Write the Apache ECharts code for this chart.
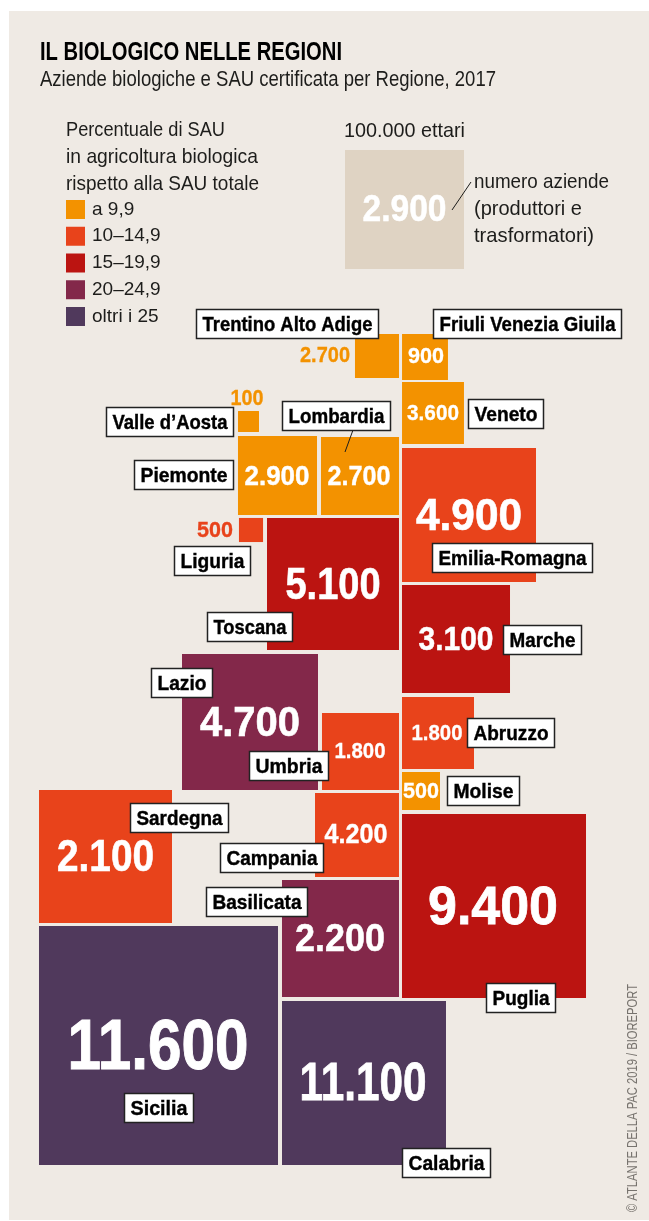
<!DOCTYPE html>
<html><head><meta charset="utf-8">
<style>html,body{margin:0;padding:0;background:#fff}#c{width:649px;height:1221px}</style>
<script src="https://cdn.jsdelivr.net/npm/echarts@6/dist/echarts.min.js"></script>
</head><body><div id="c"></div>
<script>
// ---- data ----
const regions = ['Trentino Alto Adige','Friuli Venezia Giuila','Veneto','Valle d’Aosta','Lombardia','Piemonte','Emilia-Romagna','Liguria','Toscana','Marche','Lazio','Umbria','Abruzzo','Molise','Sardegna','Campania','Basilicata','Puglia','Sicilia','Calabria'];
const farmLabels = ['2.700','900','3.600','100','2.700','2.900','4.900','500','5.100','3.100','4.700','1.800','1.800','500','2.100','4.200','2.200','9.400','11.600','11.100'];
const hectares = [13700,14900,27100,3100,43000,44100,126800,4100,123000,82400,130600,41900,36600,10200,124900,49800,96700,239100,403400,189900];
const shareClass = [0,0,0,0,0,0,1,1,2,2,3,1,1,0,1,1,3,2,4,4];
const classNames = ['a 9,9','10–14,9','15–19,9','20–24,9','oltri i 25'];
const referenceHectares = 100000;
const referenceLabel = '2.900';

// ---- cartogram placement (map units) ----
const centreX = [377,425,433,248.5,360,277.5,469,251,333,456,250,360.5,438,421,105.5,357,340.5,494,158.5,364];
const centreY = [356,357,413,421.5,476,475.5,515,530,584,639,722,751.5,733,791,856.5,835,938.5,906,1045.5,1083];
const numX = [325,426,433,247,359,277,469,215,333,456,250,360,437,421,105.5,356,340,493,158,363];
const numY = [355,356,413,398,476,476,515,530,584,639,722,751,733,791,856,834,938,906,1045,1082];
const numW = [50,36,52,33,63,65,106,36,95,75,100,51,51,36,97,63,90,130,181,127];
const numSize = [22,22,22,22,27,27,44,22,44,34,43,22,22,22,44,27,38,54,71,54];
const numOutside = [1,0,0,1,0,0,0,1,0,0,0,0,0,0,0,0,0,0,0,0];
const boxL = [196,433,106,282,134,174,468,432,207,151,249,503,467,447,130,220,206,486,124,402];
const boxR = [379,622,234,391,234,251,544,593,293,213,329,582,555,520,229,324,308,556,194,491];
const boxT = [309,309,407,401,460,546,399,543,612,668,751,625,718,776,803,843,887,983,1093,1148];
const boxOrder = ['Trentino Alto Adige','Friuli Venezia Giuila','Valle d’Aosta','Lombardia','Piemonte','Liguria','Veneto','Emilia-Romagna','Toscana','Lazio','Umbria','Marche','Abruzzo','Molise','Sardegna','Campania','Basilicata','Puglia','Sicilia','Calabria'];

const palette = ['#F39200','#E8431B','#BB1411','#83284A','#50395C'];
const FONT = '"Liberation Sans",sans-serif';
const measureCtx = document.createElement('canvas').getContext('2d');
function fit(text, font, w){ measureCtx.font = font; return w / measureCtx.measureText(text).width; }

function squareItem(params, api){
  const i = api.value(3);
  const c = api.coord([api.value(0), api.value(1)]);
  const side = api.size([Math.sqrt(api.value(2) / referenceHectares) * 119, 0])[0];
  const col = api.visual('color');
  const font = 'bold ' + numSize[i] + 'px ' + FONT;
  const n = api.coord([numX[i], numY[i] + numSize[i]*0.06]);
  return {type:'group', children:[
    {type:'rect', shape:{x:c[0]-side/2, y:c[1]-side/2, width:side, height:side}, style:{fill:col}},
    {type:'text', x:n[0], y:n[1], scaleX:fit(farmLabels[i], font, numW[i]), z2:5,
      style:{text:farmLabels[i], x:0, y:0, align:'center', verticalAlign:'middle', font:font,
        fill:numOutside[i]?col:'#fff', stroke:numOutside[i]?col:'#fff', lineWidth:Math.max(0.3,numSize[i]/70)}}
  ]};
}
const series = classNames.map((name, k) => ({
  type:'custom', name:name, coordinateSystem:'cartesian2d', renderItem:squareItem, z:2,
  itemStyle:{color:palette[k]}, silent:true,
  encode:{x:0,y:1},
  data:regions.map((r,i)=>[centreX[i],centreY[i],hectares[i],i]).filter(d=>shareClass[d[3]]===k)
}));
series.push({
  type:'custom', name:'100.000 ettari', coordinateSystem:'cartesian2d', z:2, silent:true, encode:{x:0,y:1},
  data:[[404.5,209.5,referenceHectares]],
  renderItem(params, api){
    const c = api.coord([api.value(0), api.value(1)]);
    const side = api.size([Math.sqrt(api.value(2)/referenceHectares)*119,0])[0];
    const font = 'bold 36px ' + FONT;
    return {type:'group', children:[
      {type:'rect', shape:{x:c[0]-side/2,y:c[1]-side/2,width:side,height:side}, style:{fill:'#DFD3C3'}},
      {type:'text', x:c[0], y:c[1]+2, scaleX:fit(referenceLabel,font,84),
       style:{text:referenceLabel,x:0,y:0,align:'center',verticalAlign:'middle',font:font,fill:'#fff',stroke:'#fff',lineWidth:0.5}}
    ]};
  }
});
series.push({
  type:'custom', name:'Regioni', coordinateSystem:'cartesian2d', z:5, silent:true, encode:{x:0,y:1},
  data:boxOrder.map((r,i)=>[boxL[i],boxT[i],i]),
  renderItem(params, api){
    const i = api.value(2);
    const p = api.coord([boxL[i],boxT[i]]);
    const w = api.size([boxR[i]-boxL[i],0])[0], h = 29;
    const font = 'bold 21px ' + FONT;
    return {type:'group', children:[
      {type:'rect', shape:{x:p[0]+0.5,y:p[1]+0.5,width:w-1,height:h}, style:{fill:'#fff',stroke:'#222',lineWidth:1.5}},
      {type:'text', x:p[0]+w/2, y:p[1]+h/2+1.5, scaleX:fit(boxOrder[i],font,w-13),
       style:{text:boxOrder[i],x:0,y:0,align:'center',verticalAlign:'middle',font:font,fill:'#000',stroke:'#000',lineWidth:0.4}}
    ]};
  }
});
function gtext(text,x,y,w,size,fill,weight){
  const font = (weight?weight+' ':'')+size+'px '+FONT;
  return {type:'text',x:x,y:y,scaleX:fit(text,font,w),z:10,style:{text:text,x:0,y:0,align:'left',verticalAlign:'middle',font:font,fill:fill||'#1d1d1b'}};
}
const copyFont = '15px '+FONT, copyText='© ATLANTE DELLA PAC 2019 / BIOREPORT';
const chart = echarts.init(document.getElementById('c'),null,{renderer:'canvas'});
chart.setOption({
  animation:false,
  backgroundColor:'#fff',
  grid:{left:0,right:0,top:0,bottom:0},
  xAxis:{type:'value',min:0,max:649,show:false},
  yAxis:{type:'value',min:0,max:1221,inverse:true,show:false},
  legend:{data:classNames,orient:'vertical',left:66,top:200,padding:0,itemWidth:19,itemHeight:19,itemGap:7.75,icon:'rect',itemStyle:{borderWidth:0},selectedMode:false,
    textStyle:{fontFamily:FONT,fontSize:19,lineHeight:19,color:'#1d1d1b',padding:[0,0,0,2]}},
  graphic:[
    {type:'rect',z:-10,shape:{x:9,y:11,width:640,height:1209},style:{fill:'#EFEAE4'}},
    gtext('IL BIOLOGICO NELLE REGIONI',40,53,302,26,'#000','bold'),
    gtext('Aziende biologiche e SAU certificata per Regione, 2017',40,80,456,22),
    gtext('Percentuale di SAU',66,130,159,21),
    gtext('in agricoltura biologica',66,157,192,21),
    gtext('rispetto alla SAU totale',66,184,193,21),
    gtext('100.000 ettari',344,131,121,21),
    gtext('numero aziende',474,182,135,21),
    gtext('(produttori e',474,209,108,21),
    gtext('trasformatori)',474,236,120,21),
    {type:'line',z:10,shape:{x1:471,y1:182,x2:452,y2:210},style:{stroke:'#1d1d1b',lineWidth:1}},
    {type:'line',z:10,shape:{x1:353,y1:430,x2:345,y2:452},style:{stroke:'#1d1d1b',lineWidth:1}},
    {type:'text',z:10,x:633,y:1212,rotation:Math.PI/2,scaleX:fit(copyText,copyFont,228),style:{text:copyText,x:0,y:0,align:'left',verticalAlign:'middle',font:copyFont,fill:'#77736e'}}
  ],
  series:series
});
</script></body></html>
